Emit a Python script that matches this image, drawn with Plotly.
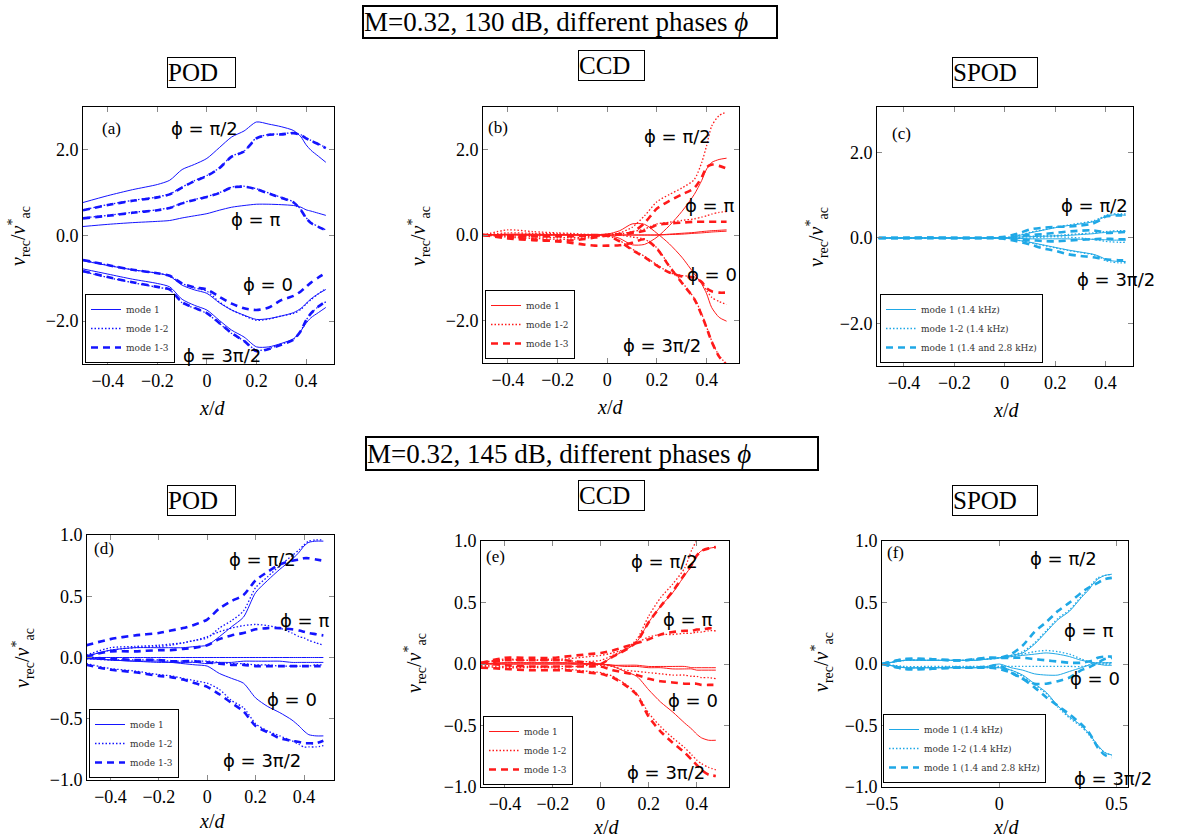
import plotly.graph_objects as go

W, H = 1189, 839

# common abscissa x/d
X = [-0.5, -0.4, -0.3, -0.2, -0.15, -0.1, -0.05, 0.0, 0.05, 0.1, 0.15, 0.2, 0.25, 0.3, 0.35, 0.38, 0.4, 0.42, 0.45, 0.48]

# ---------------- (a) POD, 130 dB ----------------
a_hpi_m1 = [0.77, 0.93, 1.07, 1.19, 1.29, 1.54, 1.66, 1.80, 2.05, 2.30, 2.44, 2.65, 2.60, 2.54, 2.45, 2.30, 2.12, 1.99, 1.85, 1.71]
a_hpi_m2 = [0.60, 0.72, 0.82, 0.90, 0.97, 1.13, 1.28, 1.40, 1.58, 1.85, 1.97, 2.28, 2.36, 2.37, 2.40, 2.35, 2.28, 2.22, 2.14, 2.05]
a_hpi_m3 = [0.59, 0.71, 0.81, 0.89, 0.96, 1.12, 1.27, 1.39, 1.57, 1.84, 1.96, 2.27, 2.35, 2.36, 2.39, 2.34, 2.27, 2.21, 2.13, 2.04]
a_pi_m1 = [0.21, 0.26, 0.30, 0.33, 0.35, 0.41, 0.46, 0.51, 0.59, 0.66, 0.70, 0.73, 0.73, 0.72, 0.70, 0.66, 0.60, 0.57, 0.52, 0.47]
a_pi_m2 = [0.41, 0.47, 0.54, 0.60, 0.65, 0.76, 0.84, 0.91, 1.00, 1.13, 1.15, 1.09, 0.99, 0.89, 0.78, 0.60, 0.42, 0.30, 0.21, 0.13]
a_pi_m3 = [0.40, 0.46, 0.53, 0.59, 0.64, 0.75, 0.83, 0.90, 0.99, 1.12, 1.14, 1.08, 0.98, 0.88, 0.77, 0.59, 0.41, 0.29, 0.20, 0.12]
a_0_m1 = [-0.59, -0.70, -0.80, -0.88, -0.95, -1.16, -1.27, -1.35, -1.57, -1.74, -1.86, -1.96, -1.94, -1.88, -1.80, -1.70, -1.59, -1.48, -1.36, -1.26]
a_0_m2 = [-0.57, -0.69, -0.80, -0.88, -0.94, -1.12, -1.22, -1.30, -1.55, -1.74, -1.87, -1.98, -1.95, -1.88, -1.82, -1.72, -1.60, -1.50, -1.36, -1.24]
a_0_m3 = [-0.57, -0.69, -0.80, -0.88, -0.94, -1.12, -1.21, -1.26, -1.43, -1.59, -1.70, -1.74, -1.68, -1.51, -1.41, -1.30, -1.20, -1.10, -0.98, -0.87]
a_3hpi_m1 = [-0.78, -0.90, -1.02, -1.12, -1.20, -1.49, -1.63, -1.74, -1.98, -2.21, -2.37, -2.60, -2.60, -2.52, -2.41, -2.22, -2.05, -1.92, -1.80, -1.68]
a_3hpi_m2 = [-0.84, -0.98, -1.10, -1.21, -1.27, -1.57, -1.70, -1.82, -2.05, -2.29, -2.46, -2.68, -2.64, -2.54, -2.42, -2.22, -1.98, -1.82, -1.66, -1.55]
a_3hpi_m3 = [-0.83, -0.97, -1.09, -1.20, -1.26, -1.56, -1.69, -1.81, -2.04, -2.28, -2.46, -2.70, -2.65, -2.55, -2.43, -2.22, -1.98, -1.82, -1.66, -1.54]

# ---------------- (b) CCD, 130 dB ----------------
b_hpi_m1 = [0.0, 0.01, 0.0, 0.0, 0.0, 0.0, 0.0, 0.0, -0.08, -0.23, -0.22, -0.05, 0.22, 0.55, 0.95, 1.28, 1.55, 1.70, 1.77, 1.80]
b_hpi_m2 = [0.0, 0.12, 0.08, 0.05, 0.04, 0.02, 0.01, 0.02, 0.05, 0.18, 0.45, 0.78, 0.95, 1.10, 1.30, 1.70, 2.10, 2.55, 2.80, 2.88]
b_hpi_m3 = [0.0, -0.02, -0.03, -0.03, -0.03, -0.02, -0.02, 0.0, 0.02, 0.06, 0.28, 0.62, 0.80, 0.95, 1.10, 1.35, 1.59, 1.65, 1.62, 1.56]
b_pi_m1 = [0.0, 0.02, 0.02, 0.01, 0.01, 0.0, 0.0, 0.0, 0.0, 0.0, 0.0, 0.0, 0.02, 0.04, 0.06, 0.08, 0.09, 0.10, 0.11, 0.12]
b_pi_m2 = [0.0, 0.05, 0.04, 0.03, 0.02, 0.0, 0.0, 0.0, 0.02, 0.08, 0.14, 0.26, 0.30, 0.34, 0.38, 0.42, 0.45, 0.49, 0.53, 0.55]
b_pi_m3 = [0.0, -0.03, -0.03, -0.02, -0.02, -0.01, 0.0, 0.0, 0.02, 0.05, 0.10, 0.24, 0.27, 0.29, 0.31, 0.31, 0.31, 0.31, 0.31, 0.31]
b_0_m1 = [0.0, 0.01, 0.01, 0.0, 0.0, 0.0, 0.0, 0.0, 0.0, 0.0, 0.0, 0.0, 0.01, 0.02, 0.04, 0.05, 0.06, 0.07, 0.08, 0.09]
b_0_m2 = [0.0, -0.05, -0.08, -0.10, -0.10, -0.08, -0.05, -0.02, -0.13, -0.33, -0.50, -0.70, -0.88, -0.95, -0.99, -1.11, -1.30, -1.46, -1.56, -1.63]
b_0_m3 = [0.0, -0.08, -0.12, -0.14, -0.13, -0.10, -0.06, -0.02, -0.15, -0.35, -0.52, -0.72, -0.88, -0.97, -1.00, -1.10, -1.25, -1.32, -1.35, -1.35]
b_3hpi_m1 = [0.0, 0.0, -0.01, 0.0, 0.0, 0.0, 0.0, 0.02, 0.10, 0.26, 0.25, 0.04, -0.21, -0.52, -0.91, -1.15, -1.38, -1.70, -1.93, -2.02]
b_3hpi_m2 = [0.0, -0.02, -0.04, -0.06, -0.06, -0.05, -0.02, 0.0, 0.0, -0.05, -0.10, -0.30, -0.72, -1.10, -1.48, -1.85, -2.16, -2.48, -2.83, -3.02]
b_3hpi_m3 = [0.0, -0.05, -0.10, -0.15, -0.18, -0.22, -0.25, -0.25, -0.24, -0.18, -0.10, -0.32, -0.74, -1.12, -1.50, -1.88, -2.18, -2.50, -2.85, -3.05]

# ---------------- (c) SPOD, 130 dB ----------------
c_hpi_m1 = [0.0, 0.0, 0.0, 0.0, 0.0, 0.0, 0.0, 0.0, 0.05, 0.12, 0.18, 0.24, 0.29, 0.33, 0.38, 0.45, 0.50, 0.53, 0.55, 0.53]
c_hpi_m2 = [0.0, 0.01, 0.0, 0.0, 0.0, 0.0, 0.0, 0.01, 0.06, 0.13, 0.19, 0.25, 0.30, 0.35, 0.40, 0.47, 0.53, 0.56, 0.57, 0.56]
c_hpi_m3 = [0.0, 0.0, 0.01, 0.0, 0.0, 0.0, 0.01, 0.03, 0.10, 0.20, 0.24, 0.26, 0.27, 0.29, 0.34, 0.42, 0.50, 0.52, 0.53, 0.52]
c_pi_m1 = [0.0, 0.0, 0.0, 0.0, 0.0, 0.0, 0.0, 0.0, 0.02, 0.03, 0.04, 0.05, 0.06, 0.08, 0.10, 0.12, 0.13, 0.14, 0.15, 0.16]
c_pi_m2 = [0.0, 0.0, 0.0, 0.0, 0.0, 0.0, 0.0, 0.0, 0.02, 0.04, 0.05, 0.06, 0.08, 0.10, 0.12, 0.14, 0.15, 0.16, 0.17, 0.17]
c_pi_m3 = [0.0, 0.0, 0.0, 0.0, 0.0, 0.0, 0.0, 0.01, 0.04, 0.07, 0.09, 0.12, 0.15, 0.17, 0.18, 0.15, 0.12, 0.12, 0.13, 0.14]
c_0_m1 = [0.0, 0.0, 0.0, 0.0, 0.0, 0.0, 0.0, 0.0, -0.01, -0.02, -0.02, -0.02, -0.02, -0.03, -0.03, -0.04, -0.04, -0.05, -0.05, -0.05]
c_0_m2 = [0.0, 0.0, 0.0, 0.0, 0.0, 0.0, 0.0, 0.0, 0.0, 0.0, 0.02, 0.03, 0.02, 0.0, -0.03, -0.06, -0.08, -0.09, -0.10, -0.10]
c_0_m3 = [0.0, 0.0, 0.0, 0.0, 0.0, 0.0, 0.0, -0.01, -0.03, -0.05, -0.07, -0.08, -0.06, -0.04, -0.03, -0.02, -0.02, -0.02, -0.03, -0.03]
c_3hpi_m1 = [0.0, 0.0, 0.0, 0.0, 0.0, 0.0, 0.0, 0.0, -0.05, -0.10, -0.16, -0.22, -0.28, -0.33, -0.38, -0.44, -0.50, -0.53, -0.55, -0.55]
c_3hpi_m2 = [0.0, 0.0, 0.0, 0.0, 0.0, 0.0, 0.0, 0.0, -0.05, -0.11, -0.17, -0.23, -0.29, -0.34, -0.39, -0.46, -0.53, -0.56, -0.58, -0.58]
c_3hpi_m3 = [0.0, 0.0, 0.0, 0.0, 0.0, 0.0, 0.0, -0.02, -0.08, -0.15, -0.24, -0.30, -0.38, -0.42, -0.45, -0.48, -0.50, -0.51, -0.52, -0.52]

# ---------------- (d) POD, 145 dB ----------------
d_hpi_m1 = [0.01, 0.06, 0.08, 0.08, 0.08, 0.08, 0.09, 0.10, 0.17, 0.25, 0.33, 0.53, 0.63, 0.72, 0.80, 0.86, 0.91, 0.94, 0.95, 0.95]
d_hpi_m2 = [0.02, 0.08, 0.09, 0.10, 0.11, 0.12, 0.14, 0.16, 0.24, 0.30, 0.38, 0.57, 0.66, 0.75, 0.83, 0.88, 0.92, 0.95, 0.96, 0.96]
d_hpi_m3 = [0.10, 0.15, 0.18, 0.20, 0.22, 0.24, 0.27, 0.31, 0.40, 0.46, 0.51, 0.63, 0.70, 0.76, 0.79, 0.80, 0.81, 0.81, 0.80, 0.79]
d_pi_m1 = [0.0, 0.0, 0.0, 0.0, 0.0, 0.0, 0.0, 0.0, 0.0, 0.0, 0.0, 0.0, 0.0, 0.0, 0.0, 0.0, 0.0, 0.0, 0.0, 0.0]
d_pi_m2 = [0.01, 0.06, 0.08, 0.09, 0.10, 0.12, 0.14, 0.17, 0.21, 0.24, 0.26, 0.27, 0.26, 0.24, 0.20, 0.17, 0.16, 0.14, 0.12, 0.10]
d_pi_m3 = [0.01, 0.05, 0.05, 0.06, 0.06, 0.07, 0.08, 0.10, 0.15, 0.18, 0.20, 0.23, 0.24, 0.24, 0.23, 0.22, 0.21, 0.20, 0.19, 0.18]
d_0_m1 = [-0.01, -0.02, -0.03, -0.03, -0.04, -0.04, -0.04, -0.05, -0.04, -0.04, -0.03, -0.03, -0.03, -0.03, -0.04, -0.04, -0.04, -0.04, -0.04, -0.04]
d_0_m2 = [-0.01, -0.02, -0.02, -0.02, -0.03, -0.03, -0.03, -0.03, -0.04, -0.05, -0.05, -0.06, -0.06, -0.07, -0.07, -0.07, -0.07, -0.07, -0.06, -0.06]
d_0_m3 = [0.0, -0.01, -0.02, -0.02, -0.03, -0.03, -0.03, -0.04, -0.05, -0.06, -0.06, -0.07, -0.07, -0.07, -0.07, -0.07, -0.07, -0.07, -0.07, -0.07]
d_3hpi_m1 = [0.0, -0.02, -0.03, -0.04, -0.04, -0.05, -0.06, -0.07, -0.13, -0.17, -0.21, -0.33, -0.40, -0.45, -0.51, -0.56, -0.60, -0.63, -0.64, -0.64]
d_3hpi_m2 = [-0.05, -0.09, -0.11, -0.14, -0.15, -0.17, -0.19, -0.21, -0.26, -0.35, -0.41, -0.54, -0.60, -0.64, -0.68, -0.71, -0.73, -0.73, -0.73, -0.72]
d_3hpi_m3 = [-0.06, -0.10, -0.12, -0.15, -0.16, -0.18, -0.21, -0.24, -0.30, -0.37, -0.44, -0.56, -0.61, -0.66, -0.68, -0.69, -0.70, -0.70, -0.70, -0.68]

# ---------------- (e) CCD, 145 dB ----------------
e_hpi_m1 = [0.0, 0.01, 0.01, 0.01, 0.01, 0.0, 0.0, 0.0, 0.06, 0.11, 0.18, 0.34, 0.47, 0.58, 0.72, 0.80, 0.88, 0.92, 0.94, 0.95]
e_hpi_m2 = [0.01, 0.04, 0.03, 0.03, 0.03, 0.02, 0.02, 0.03, 0.07, 0.12, 0.20, 0.39, 0.54, 0.65, 0.78, 0.93, 1.00, 1.04, 1.06, 1.08]
e_hpi_m3 = [0.0, 0.03, 0.03, 0.03, 0.03, 0.02, 0.01, 0.0, 0.06, 0.11, 0.18, 0.34, 0.47, 0.59, 0.73, 0.81, 0.88, 0.92, 0.94, 0.95]
e_pi_m1 = [0.0, 0.01, 0.01, 0.01, 0.01, 0.01, 0.0, 0.0, -0.01, -0.01, -0.01, -0.02, -0.02, -0.02, -0.02, -0.03, -0.03, -0.03, -0.03, -0.03]
e_pi_m2 = [0.01, 0.03, 0.03, 0.04, 0.04, 0.05, 0.06, 0.07, 0.09, 0.12, 0.17, 0.22, 0.24, 0.24, 0.25, 0.25, 0.26, 0.26, 0.27, 0.27]
e_pi_m3 = [0.01, 0.05, 0.05, 0.05, 0.06, 0.07, 0.08, 0.09, 0.11, 0.14, 0.17, 0.20, 0.24, 0.26, 0.27, 0.27, 0.28, 0.28, 0.29, 0.29]
e_0_m1 = [0.0, 0.0, 0.0, 0.0, 0.0, 0.0, 0.0, 0.0, -0.01, -0.02, -0.02, -0.03, -0.03, -0.04, -0.04, -0.04, -0.05, -0.05, -0.05, -0.05]
e_0_m2 = [-0.01, -0.02, -0.02, -0.02, -0.02, -0.02, -0.01, -0.01, -0.02, -0.05, -0.06, -0.07, -0.08, -0.09, -0.09, -0.10, -0.10, -0.11, -0.11, -0.12]
e_0_m3 = [0.01, -0.01, -0.02, -0.02, -0.02, -0.02, -0.02, -0.02, -0.05, -0.07, -0.09, -0.12, -0.14, -0.15, -0.16, -0.16, -0.16, -0.17, -0.17, -0.17]
e_3hpi_m1 = [0.0, 0.0, 0.0, 0.0, 0.0, 0.0, 0.0, 0.0, -0.02, -0.06, -0.10, -0.21, -0.31, -0.39, -0.48, -0.53, -0.57, -0.60, -0.62, -0.62]
e_3hpi_m2 = [-0.02, -0.03, -0.03, -0.03, -0.04, -0.05, -0.06, -0.07, -0.10, -0.16, -0.24, -0.40, -0.51, -0.60, -0.68, -0.74, -0.78, -0.81, -0.84, -0.86]
e_3hpi_m3 = [-0.03, -0.04, -0.05, -0.05, -0.05, -0.06, -0.07, -0.08, -0.11, -0.17, -0.25, -0.43, -0.55, -0.64, -0.72, -0.78, -0.82, -0.86, -0.90, -0.91]

# ---------------- (f) SPOD, 145 dB ----------------
f_hpi_m1 = [0.0, 0.03, 0.03, 0.03, 0.03, 0.03, 0.04, 0.05, 0.07, 0.09, 0.16, 0.26, 0.36, 0.43, 0.54, 0.60, 0.65, 0.69, 0.72, 0.73]
f_hpi_m2 = [0.0, 0.03, 0.03, 0.03, 0.03, 0.04, 0.04, 0.05, 0.07, 0.10, 0.17, 0.27, 0.37, 0.44, 0.55, 0.61, 0.66, 0.70, 0.72, 0.73]
f_hpi_m3 = [0.0, 0.04, 0.04, 0.03, 0.03, 0.04, 0.05, 0.05, 0.08, 0.15, 0.26, 0.34, 0.43, 0.50, 0.58, 0.62, 0.64, 0.66, 0.69, 0.70]
f_pi_m1 = [0.0, 0.03, 0.03, 0.03, 0.03, 0.03, 0.04, 0.05, 0.06, 0.07, 0.08, 0.09, 0.08, 0.06, 0.03, 0.02, 0.01, 0.01, 0.01, 0.01]
f_pi_m2 = [0.0, 0.03, 0.03, 0.03, 0.03, 0.04, 0.04, 0.05, 0.06, 0.08, 0.10, 0.11, 0.10, 0.08, 0.04, 0.02, 0.01, 0.01, 0.01, 0.01]
f_pi_m3 = [0.0, 0.04, 0.04, 0.03, 0.03, 0.04, 0.05, 0.05, 0.05, 0.05, 0.04, 0.03, 0.02, 0.01, 0.01, 0.02, 0.03, 0.05, 0.06, 0.06]
f_0_m1 = [0.0, -0.03, -0.03, -0.03, -0.03, -0.03, -0.02, 0.0, -0.03, -0.05, -0.08, -0.09, -0.09, -0.06, -0.03, -0.01, 0.01, 0.0, -0.01, -0.01]
f_0_m2 = [0.0, -0.02, -0.02, -0.02, -0.02, -0.02, -0.02, -0.02, -0.02, -0.02, -0.02, -0.02, -0.02, -0.02, -0.02, -0.01, 0.0, 0.0, 0.0, 0.0]
f_0_m3 = [0.0, -0.04, -0.04, -0.03, -0.03, -0.03, -0.02, -0.01, -0.07, -0.12, -0.16, -0.16, -0.14, -0.11, -0.05, -0.03, -0.01, 0.01, 0.04, 0.05]
f_3hpi_m1 = [0.0, -0.03, -0.03, -0.03, -0.03, -0.03, -0.03, -0.03, -0.05, -0.09, -0.16, -0.23, -0.34, -0.43, -0.50, -0.56, -0.61, -0.66, -0.72, -0.74]
f_3hpi_m2 = [0.0, -0.03, -0.03, -0.03, -0.03, -0.03, -0.03, -0.03, -0.05, -0.10, -0.17, -0.24, -0.35, -0.44, -0.51, -0.57, -0.62, -0.67, -0.72, -0.74]
f_3hpi_m3 = [0.0, -0.04, -0.04, -0.03, -0.03, -0.03, -0.03, -0.04, -0.07, -0.12, -0.19, -0.27, -0.34, -0.41, -0.49, -0.55, -0.61, -0.68, -0.74, -0.76]

# labels
PHASE_LABELS = ["ϕ = π/2", "ϕ = π", "ϕ = 0", "ϕ = 3π/2"]
LEG_POD = ["mode 1", "mode 1-2", "mode 1-3"]
LEG_SPOD = ["mode 1 (1.4 kHz)", "mode 1-2 (1.4 kHz)", "mode 1 (1.4 and 2.8 kHz)"]
TITLE_ROW1 = "M=0.32, 130 dB, different phases <i>ϕ</i>"
TITLE_ROW2 = "M=0.32, 145 dB, different phases <i>ϕ</i>"
METHODS = ["POD", "CCD", "SPOD"]
YT_BIG = [-2, 0, 2]
YL_BIG = ["−2.0", "0.0", "2.0"]
YT_SMALL = [-1, -0.5, 0, 0.5, 1]
YL_SMALL = ["−1.0", "−0.5", "0.0", "0.5", "1.0"]
XT_A = [-0.4, -0.2, 0, 0.2, 0.4]
XL_A = ["−0.4", "−0.2", "0", "0.2", "0.4"]
XT_F = [-0.5, 0, 0.5]
XL_F = ["−0.5", "0", "0.5"]

BLUE, RED, CYAN = "#1414ff", "#ff1a1a", "#1fa8e6"
SERIF = "Liberation Serif"


def px(x):
    return x / W


def py(y):
    return 1 - y / H


panels = [
    dict(tag="a", color=BLUE, legend=LEG_POD,
         series=[(a_hpi_m1, a_hpi_m2, a_hpi_m3), (a_pi_m1, a_pi_m2, a_pi_m3), (a_0_m1, a_0_m2, a_0_m3), (a_3hpi_m1, a_3hpi_m2, a_3hpi_m3)],
         xd=(83, 334), yd=(107, 364), xr=(-0.5, 0.513), yr=(-3, 3), yt=(YT_BIG, YL_BIG), xt=(XT_A, XL_A),
         lab=[(-0.01, 2.50), (0.195, 0.37), (0.247, -1.15), (0.062, -2.81)],
         letter=(100, 117), ytitle=(19, 236), xtitle=(212, 408), leg=(85, 363)),
    dict(tag="b", color=RED, legend=LEG_POD,
         series=[(b_hpi_m1, b_hpi_m2, b_hpi_m3), (b_pi_m1, b_pi_m2, b_pi_m3), (b_0_m1, b_0_m2, b_0_m3), (b_3hpi_m1, b_3hpi_m2, b_3hpi_m3)],
         xd=(483, 739), yd=(107, 363), xr=(-0.5, 0.53), yr=(-3, 3), yt=(YT_BIG, YL_BIG), xt=(XT_A, XL_A),
         lab=[(0.283, 2.31), (0.41, 0.70), (0.42, -0.93), (0.22, -2.59)],
         letter=(486, 116), ytitle=(419, 236), xtitle=(610, 407), leg=(485, 359)),
    dict(tag="c", color=CYAN, legend=LEG_SPOD,
         series=[(c_hpi_m1, c_hpi_m2, c_hpi_m3), (c_pi_m1, c_pi_m2, c_pi_m3), (c_0_m1, c_0_m2, c_0_m3), (c_3hpi_m1, c_3hpi_m2, c_3hpi_m3)],
         xd=(877, 1133), yd=(107, 366), xr=(-0.507, 0.509), yr=(-3, 3.07), yt=(YT_BIG, YL_BIG), xt=(XT_A, XL_A),
         lab=[(0.357, 0.76), (0.55, 0.27), (0.61, -0.36), (0.44, -0.97)],
         letter=(890, 122), ytitle=(817, 237), xtitle=(1006, 410), leg=(880, 363)),
    dict(tag="d", color=BLUE, legend=LEG_POD,
         series=[(d_hpi_m1, d_hpi_m2, d_hpi_m3), (d_pi_m1, d_pi_m2, d_pi_m3), (d_0_m1, d_0_m2, d_0_m3), (d_3hpi_m1, d_3hpi_m2, d_3hpi_m3)],
         xd=(87, 334), yd=(535, 780), xr=(-0.497, 0.524), yr=(-1, 1), yt=(YT_SMALL, YL_SMALL), xt=(XT_A, XL_A),
         lab=[(0.23, 0.80), (0.40, 0.30), (0.35, -0.34), (0.225, -0.84)],
         letter=(92, 537), ytitle=(23, 658), xtitle=(212, 821), leg=(89, 778)),
    dict(tag="e", color=RED, legend=LEG_POD,
         series=[(e_hpi_m1, e_hpi_m2, e_hpi_m3), (e_pi_m1, e_pi_m2, e_pi_m3), (e_0_m1, e_0_m2, e_0_m3), (e_3hpi_m1, e_3hpi_m2, e_3hpi_m3)],
         xd=(481, 729), yd=(541, 787), xr=(-0.5, 0.535), yr=(-1, 1), yt=(YT_SMALL, YL_SMALL), xt=(XT_A, XL_A),
         lab=[(0.267, 0.83), (0.363, 0.36), (0.384, -0.30), (0.271, -0.88)],
         letter=(484, 545), ytitle=(415, 663), xtitle=(606, 827), leg=(483, 785)),
    dict(tag="f", color=CYAN, legend=LEG_SPOD,
         series=[(f_hpi_m1, f_hpi_m2, f_hpi_m3), (f_pi_m1, f_pi_m2, f_pi_m3), (f_0_m1, f_0_m2, f_0_m3), (f_3hpi_m1, f_3hpi_m2, f_3hpi_m3)],
         xd=(882, 1128), yd=(541, 787), xr=(-0.5, 0.549), yr=(-1, 1), yt=(YT_SMALL, YL_SMALL), xt=(XT_F, XL_F),
         lab=[(0.275, 0.86), (0.38, 0.27), (0.41, -0.12), (0.484, -0.93)],
         letter=(885, 541), ytitle=(822, 662), xtitle=(1006, 827), leg=(883, 783)),
]

STYLES = [dict(width=1.0, dash="solid"), dict(width=1.3, dash="1.5px,2px"), dict(width=2.6, dash="7px,5px")]

fig = go.Figure()
annotations = []
layout = dict(width=W, height=H, margin=dict(l=0, r=0, t=0, b=0, pad=0, autoexpand=False),
              paper_bgcolor="white", plot_bgcolor="white", showlegend=True)

for i, p in enumerate(panels):
    k = i + 1
    sfx = "" if k == 1 else str(k)
    xa, ya = "x" + sfx, "y" + sfx
    legname = "legend" + sfx
    for j, trip in enumerate(p["series"]):
        for m, ys in enumerate(trip):
            fig.add_trace(go.Scatter(
                x=X, y=ys, mode="lines", xaxis=xa, yaxis=ya,
                line=dict(color=p["color"], width=STYLES[m]["width"], dash=STYLES[m]["dash"],
                          shape="spline", smoothing=0.7),
                name=p["legend"][m], showlegend=(j == 0), legend=legname, hoverinfo="skip"))
    axcommon = dict(showline=True, linecolor="black", linewidth=1, mirror="allticks",
                    ticks="inside", ticklen=5, tickcolor="#8a8a8a", tickwidth=1,
                    showgrid=False, zeroline=False, automargin=False,
                    tickfont=dict(family=SERIF, size=18, color="black"))
    layout["xaxis" + sfx] = dict(axcommon, domain=[px(p["xd"][0]), px(p["xd"][1])], range=list(p["xr"]),
                                 anchor=ya, tickvals=p["xt"][0], ticktext=p["xt"][1])
    layout["yaxis" + sfx] = dict(axcommon, domain=[py(p["yd"][1]), py(p["yd"][0])], range=list(p["yr"]),
                                 anchor=xa, tickvals=p["yt"][0], ticktext=p["yt"][1])
    layout[legname] = dict(x=px(p["leg"][0]), y=py(p["leg"][1]), xanchor="left", yanchor="bottom",
                           bordercolor="black", borderwidth=1, bgcolor="white",
                           font=dict(family="DejaVu Serif", size=9, color="#333"), tracegroupgap=0, itemwidth=30)
    for (lx, ly), txt in zip(p["lab"], PHASE_LABELS):
        annotations.append(dict(x=lx, y=ly, xref=xa, yref=ya, text=txt, showarrow=False,
                                xanchor="center", yanchor="middle",
                                font=dict(family="DejaVu Sans", size=18, color="black")))
    annotations.append(dict(x=px(p["letter"][0]), y=py(p["letter"][1]), xref="paper", yref="paper",
                            text="(" + p["tag"] + ")", showarrow=False, xanchor="left", yanchor="top",
                            font=dict(family=SERIF, size=17, color="black")))
    annotations.append(dict(x=px(p["ytitle"][0]), y=py(p["ytitle"][1]), xref="paper", yref="paper",
                            text="<i>v</i><sub>rec</sub>/<i>v</i><sup>*</sup><sub>ac</sub>", textangle=-90,
                            showarrow=False, xanchor="center", yanchor="middle",
                            font=dict(family=SERIF, size=20, color="black")))
    annotations.append(dict(x=px(p["xtitle"][0]), y=py(p["xtitle"][1]), xref="paper", yref="paper",
                            text="<i>x</i>/<i>d</i>", showarrow=False, xanchor="center", yanchor="middle",
                            font=dict(family=SERIF, size=20, color="black")))


# boxed titles
def box(text, x0, x1, y0, y1, size, bw):
    return dict(x=px(x0), y=py(y0), xref="paper", yref="paper", text=text,
                showarrow=False, xanchor="left", yanchor="top", align="left",
                width=x1 - x0 - 2 * bw, height=y1 - y0 - 2 * bw, borderpad=0,
                bordercolor="black", borderwidth=bw, bgcolor="white",
                font=dict(family=SERIF, size=size, color="black"))


annotations.append(box(TITLE_ROW1, 362, 778, 5, 39, 27, 2))
annotations.append(box(TITLE_ROW2, 365, 819, 436, 471, 27, 2))
for row_y in [(57, 88, 50, 81), (485, 516, 480, 511)]:
    annotations.append(box(METHODS[0], 167, 236, row_y[0], row_y[1], 25, 1))
    annotations.append(box(METHODS[1], 578, 645, row_y[2], row_y[3], 25, 1))
    annotations.append(box(METHODS[2], 952, 1038, row_y[0], row_y[1], 25, 1))

layout["annotations"] = annotations
fig.update_layout(**layout)
fig.write_html("out.html")
